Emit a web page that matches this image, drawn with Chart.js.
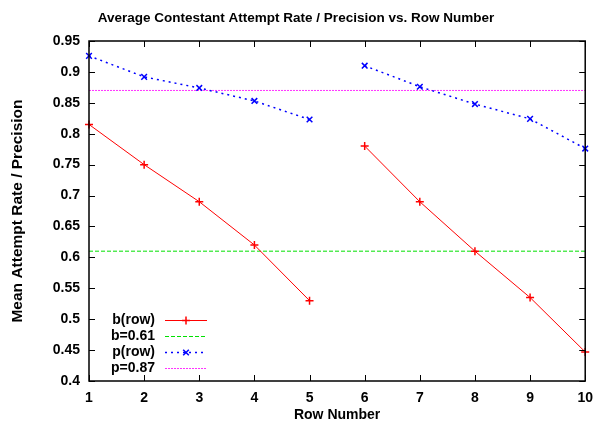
<!DOCTYPE html>
<html>
<head>
<meta charset="UTF-8">
<title>Average Contestant Attempt Rate / Precision vs. Row Number</title>
<script src="https://cdn.jsdelivr.net/npm/chart.js"></script>
<style>
  body { margin: 0; background: #fff; }
  #wrap { width: 602px; height: 425px; }
</style>
</head>
<body>
<div id="wrap"><canvas id="chart" width="602" height="425"></canvas></div>
<script>
// data
const rows = ['1', '2', '3', '4', '5', '6', '7', '8', '9', '10'];
const attemptRate = [0.815, 0.75, 0.69, 0.62, 0.53, 0.78, 0.69, 0.61, 0.535, 0.447];
const precision = [0.926, 0.892, 0.874, 0.853, 0.823, 0.91, 0.876, 0.848, 0.824, 0.776];
const bMean = 0.61;
const pMean = 0.87;
const yTicks = [0.4, 0.45, 0.5, 0.55, 0.6, 0.65, 0.7, 0.75, 0.8, 0.85, 0.9, 0.95];

const FONT = 'Liberation Sans, Arial, Helvetica, sans-serif';

// no line between row 5 and row 6
const gap = ctx => ctx.p0DataIndex === 4 ? 'transparent' : undefined;

// gnuplot-like frame with inward ticks on all four sides
const framePlugin = {
  id: 'frame',
  afterDatasetsDraw(chart) {
    const { ctx, chartArea: a, scales } = chart;
    ctx.save();
    ctx.strokeStyle = '#000';
    ctx.lineWidth = 1.5;
    ctx.strokeRect(a.left, a.top, a.right - a.left, a.bottom - a.top);
    ctx.lineWidth = 1;
    ctx.beginPath();
    scales.y.ticks.forEach(t => {
      const y = Math.round(scales.y.getPixelForValue(t.value)) + 0.5;
      ctx.moveTo(a.left, y); ctx.lineTo(a.left + 6, y);
      ctx.moveTo(a.right, y); ctx.lineTo(a.right - 6, y);
    });
    scales.x.ticks.forEach((t, i) => {
      const x = Math.round(scales.x.getPixelForTick(i)) + 0.5;
      ctx.moveTo(x, a.top); ctx.lineTo(x, a.top + 6);
      ctx.moveTo(x, a.bottom); ctx.lineTo(x, a.bottom - 6);
    });
    ctx.stroke();
    ctx.restore();
  }
};

// key box inside the plot, text right-aligned then a line sample
const keyPlugin = {
  id: 'key',
  afterDraw(chart) {
    const { ctx } = chart;
    ctx.save();
    ctx.font = 'bold 14px ' + FONT;
    ctx.textAlign = 'right';
    ctx.textBaseline = 'middle';
    chart.data.datasets.forEach((ds, i) => {
      const y = 320 + i * 16;
      ctx.fillStyle = '#000';
      ctx.fillText(ds.label, 155, y);
      ctx.strokeStyle = ds.borderColor;
      ctx.lineWidth = ds.borderWidth;
      ctx.setLineDash(ds.borderDash || []);
      ctx.beginPath();
      ctx.moveTo(165, y + 0.5); ctx.lineTo(207, y + 0.5);
      ctx.stroke();
      ctx.setLineDash([]);
      if (ds.pointRadius > 0) {
        ctx.strokeStyle = ds.borderColor;
        ctx.lineWidth = ds.pointBorderWidth;
        Chart.helpers.drawPoint(ctx, {
          pointStyle: ds.pointStyle, radius: ds.pointRadius, borderWidth: ds.pointBorderWidth
        }, 186, y + 0.5);
      }
    });
    ctx.restore();
  }
};

new Chart(document.getElementById('chart'), {
  type: 'line',
  data: {
    labels: rows,
    datasets: [
      {
        label: 'b(row)',
        data: attemptRate,
        borderColor: '#ff0000',
        backgroundColor: '#ff0000',
        borderWidth: 1,
        pointStyle: 'cross',
        pointRadius: 4,
        pointBorderWidth: 1.5,
        segment: { borderColor: gap }
      },
      {
        label: 'b=0.61',
        data: rows.map(() => bMean),
        borderColor: '#00e000',
        borderWidth: 1,
        borderDash: [4, 2],
        pointRadius: 0
      },
      {
        label: 'p(row)',
        data: precision,
        borderColor: '#0000ff',
        backgroundColor: '#0000ff',
        borderWidth: 1.5,
        borderDash: [2, 4],
        pointStyle: 'crossRot',
        pointRadius: 4,
        pointBorderWidth: 1.5,
        segment: { borderColor: gap }
      },
      {
        label: 'p=0.87',
        data: rows.map(() => pMean),
        borderColor: '#ff33ff',
        backgroundColor: '#ff33ff',
        borderWidth: 1,
        borderDash: [2, 1],
        pointRadius: 0
      }
    ]
  },
  options: {
    responsive: false,
    animation: false,
    layout: { padding: { left: 0, right: 10, top: 0, bottom: 0 } },
    plugins: {
      legend: { display: false },
      tooltip: { enabled: false },
      title: {
        display: true,
        text: 'Average Contestant Attempt Rate / Precision vs. Row Number',
        color: '#000',
        font: { family: FONT, size: 13.5, weight: 'bold', lineHeight: 1.2 },
        padding: { top: 10, bottom: 14.8 }
      }
    },
    scales: {
      x: {
        type: 'category',
        offset: false,
        grid: { display: false, drawTicks: false },
        border: { display: false },
        ticks: { color: '#000', padding: 9, maxRotation: 0, font: { family: FONT, size: 14, weight: 'bold' } },
        title: {
          display: true, text: 'Row Number', color: '#000',
          font: { family: FONT, size: 14, weight: 'bold' }, padding: { top: 4, bottom: 1 }
        },
        afterFit(s) { s.height = 44; }
      },
      y: {
        min: 0.4,
        max: 0.95,
        afterBuildTicks(s) { s.ticks = yTicks.map(v => ({ value: v })); },
        grid: { display: false, drawTicks: false },
        border: { display: false },
        ticks: {
          color: '#000', padding: 9,
          font: { family: FONT, size: 14, weight: 'bold' },
          callback: v => String(+v.toFixed(2))
        },
        title: {
          display: true, text: 'Mean Attempt Rate / Precision', color: '#000',
          font: { family: FONT, size: 15.5, weight: 'bold' }, padding: { top: 8, bottom: 0 }
        },
        afterFit(s) { s.width = 89; }
      }
    }
  },
  plugins: [framePlugin, keyPlugin]
});
</script>
</body>
</html>
